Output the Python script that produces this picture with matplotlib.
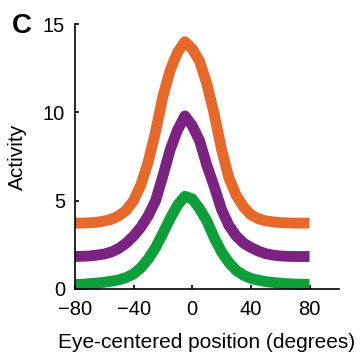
import matplotlib
matplotlib.use("Agg")
import matplotlib.pyplot as plt

plt.rcParams['font.family'] = ['Liberation Sans', 'DejaVu Sans']

# Eye-centered position (degrees)
position = [-80, -75, -70, -65, -60, -55, -50, -45, -40, -35, -30, -25, -20,
            -15, -10, -5, 0, 5, 10, 15, 20, 25, 30, 35, 40, 45, 50, 55, 60,
            65, 70, 75, 80]

# Activity of the three response curves
act_orange = [3.73, 3.73, 3.75, 3.78, 3.85, 3.95, 4.15, 4.45, 5.0, 5.9, 7.2,
              8.9, 10.9, 12.4, 13.4, 14.0, 13.6, 12.9, 11.6, 9.9, 7.9, 6.3,
              5.3, 4.65, 4.2, 3.98, 3.86, 3.8, 3.76, 3.74, 3.73, 3.73, 3.73]
act_purple = [1.84, 1.85, 1.87, 1.92, 1.98, 2.1, 2.3, 2.6, 3.0, 3.5, 4.15,
              5.0, 6.4, 7.9, 9.0, 9.8, 9.25, 8.4, 7.0, 5.8, 4.5, 3.6, 3.0,
              2.6, 2.35, 2.15, 2.0, 1.92, 1.87, 1.85, 1.84, 1.84, 1.84]
act_green = [0.25, 0.27, 0.3, 0.34, 0.38, 0.44, 0.52, 0.65, 0.85, 1.2, 1.7,
             2.35, 3.15, 4.0, 4.75, 5.25, 5.1, 4.55, 3.85, 2.9, 2.1, 1.5,
             1.05, 0.78, 0.6, 0.5, 0.42, 0.37, 0.33, 0.3, 0.28, 0.27, 0.27]

series = [
    (act_orange, '#E4692B'),
    (act_purple, '#7B2381'),
    (act_green, '#0E9F3B'),
]

x_ticks = [-80, -40, 0, 40, 80]
y_ticks = [0, 5, 10, 15]

fig = plt.figure(figsize=(3.62, 3.59), dpi=100)
ax = fig.add_axes([0.207, 0.195, 0.729, 0.738])

for values, color in series:
    ax.plot(position, values, color=color, lw=7.8,
            solid_capstyle='butt', solid_joinstyle='round', clip_on=False)

ax.set_xlim(-80, 100)
ax.set_ylim(0, 15)
ax.set_xticks(x_ticks)
ax.set_yticks(y_ticks)

for side in ('top', 'right'):
    ax.spines[side].set_visible(False)
for side in ('left', 'bottom'):
    ax.spines[side].set_linewidth(1.2)
    ax.spines[side].set_color('black')

ax.tick_params(direction='in', length=3, width=1.2, labelsize=14.5,
               colors='black')
ax.tick_params(axis='x', pad=8)
ax.tick_params(axis='y', pad=7)

ax.set_xlabel('Eye-centered position (degrees)', fontsize=15)
ax.set_ylabel('Activity', fontsize=15)
ax.yaxis.set_label_coords(-0.18, 0.5)
ax.xaxis.set_label_coords(0.5, -0.165)

fig.text(0.033, 0.965, 'C', fontsize=20, fontweight='bold', va='top',
         ha='left')

fig.savefig('out.png', dpi=100)
